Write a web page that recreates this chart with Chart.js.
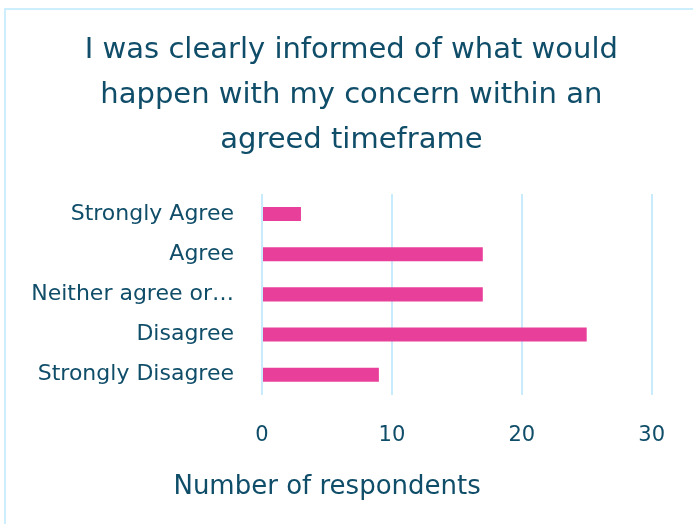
<!DOCTYPE html>
<html>
<head>
<meta charset="utf-8">
<script src="https://cdn.jsdelivr.net/npm/chart.js@4"></script>
<style>
  html, body { margin: 0; padding: 0; background: #fff; overflow: hidden; }
  #wrap { position: relative; width: 693px; height: 524px; }
  #frame { position: absolute; left: 4px; top: 8px; width: 720px; height: 560px; border: 2px solid #cdeefc; box-sizing: border-box; }
  #chart { position: absolute; left: 0; top: 0; }
</style>
</head>
<body>
<div id="wrap">
  <div id="frame"></div>
  <canvas id="chart" width="693" height="524"></canvas>
</div>
<script>
// survey answers, top to bottom
const categories = ['Strongly Agree', 'Agree', 'Neither agree or…', 'Disagree', 'Strongly Disagree'];
const respondents = [3, 17, 17, 25, 9];
const xTicks = [0, 10, 20, 30];

const titleLines = ['I was clearly informed of what would', 'happen with my concern within an', 'agreed timeframe'];
const axisTitle = 'Number of respondents';

const INK = '#0f4d69';
const FONT = "'DejaVu Sans', sans-serif";

// heading above the plot and caption under the x ticks
const captions = {
  id: 'captions',
  afterDraw(chart) {
    const c = chart.ctx;
    const mid = chart.width * 0.507;
    c.save();
    c.fillStyle = INK;
    c.textAlign = 'center';
    c.textBaseline = 'middle';
    c.font = '29px ' + FONT;
    titleLines.forEach((line, i) => c.fillText(line, mid, 50 + i * 45));
    c.font = '26px ' + FONT;
    c.fillText(axisTitle, chart.width * 0.472, 487);
    c.restore();
  }
};

new Chart(document.getElementById('chart'), {
  type: 'bar',
  data: {
    labels: categories,
    datasets: [{
      data: respondents,
      backgroundColor: '#e8409a',
      barPercentage: 0.35,
      categoryPercentage: 1
    }]
  },
  options: {
    indexAxis: 'y',
    responsive: false,
    animation: false,
    layout: { padding: { top: 194, right: 40, bottom: 48, left: 0 } },
    plugins: {
      legend: { display: false },
      tooltip: { enabled: false },
      title: { display: false }
    },
    scales: {
      x: {
        min: 0, max: 30,
        afterBuildTicks(s) { s.ticks = xTicks.map(v => ({ value: v })); },
        grid: { color: '#c8ecfb', lineWidth: 2, drawTicks: false },
        border: { display: false },
        ticks: { color: INK, padding: 28, font: { family: FONT, size: 21 } }
      },
      y: {
        afterFit(s) { s.width = 262; },
        grid: { display: false, drawTicks: false },
        border: { display: false },
        ticks: { color: INK, padding: 28, font: { family: FONT, size: 22 } }
      }
    }
  },
  plugins: [captions]
});
</script>
</body>
</html>
